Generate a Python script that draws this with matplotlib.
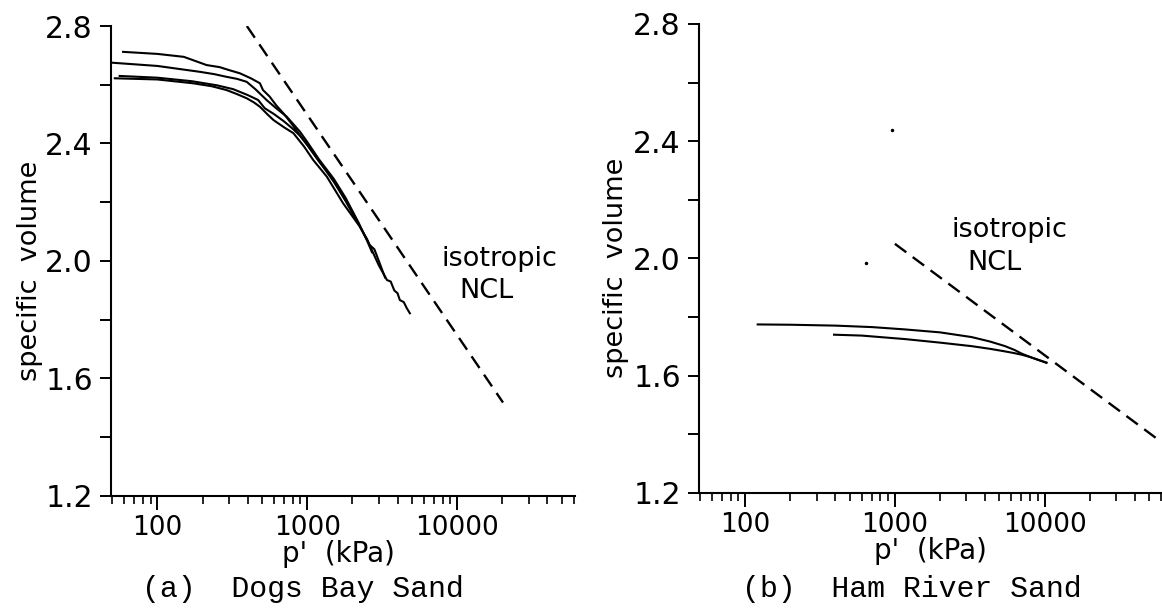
import numpy as np
import matplotlib
matplotlib.use('Agg')
import matplotlib.pyplot as plt
from matplotlib.ticker import MultipleLocator, NullFormatter

plt.rcParams['font.family'] = 'DejaVu Sans'

# (a) Dogs Bay Sand: compression curves
dogs_p1 = [59, 100, 150, 213, 260, 300, 355, 420, 483, 506, 560, 620, 700, 800,
           900, 1000, 1200, 1500, 1800, 2200, 2600, 2800, 3000, 3300]
dogs_v1 = [2.712, 2.705, 2.695, 2.667, 2.660, 2.650, 2.639, 2.622, 2.605, 2.582,
           2.560, 2.530, 2.500, 2.462, 2.425, 2.395, 2.340, 2.270, 2.205, 2.125,
           2.055, 2.040, 2.000, 1.944]
dogs_p2 = [50, 100, 192, 240, 289, 340, 394, 450, 535, 620, 730, 894, 1000, 1200,
           1500, 1800, 2200, 2500, 2700]
dogs_v2 = [2.675, 2.664, 2.644, 2.636, 2.627, 2.620, 2.610, 2.585, 2.548, 2.520,
           2.491, 2.440, 2.405, 2.345, 2.280, 2.215, 2.130, 2.070, 2.030]
dogs_p3 = [52, 100, 173, 230, 289, 340, 394, 440, 483, 540, 594, 700, 808, 950,
           1094, 1350, 1730, 2240, 2500, 2750, 3000, 3400, 3600, 3800, 4000, 4140,
           4400, 4600, 4830]
dogs_v3 = [2.622, 2.618, 2.605, 2.595, 2.582, 2.568, 2.554, 2.540, 2.525, 2.500,
           2.480, 2.455, 2.435, 2.390, 2.344, 2.287, 2.197, 2.117, 2.075, 2.027,
           1.985, 1.935, 1.930, 1.900, 1.890, 1.867, 1.860, 1.840, 1.822]
dogs_p4 = [56, 100, 170, 250, 320, 400, 470, 520, 600, 700, 800, 900, 1000, 1200,
           1500, 2000]
dogs_v4 = [2.630, 2.624, 2.612, 2.598, 2.585, 2.565, 2.548, 2.520, 2.500, 2.475,
           2.450, 2.425, 2.395, 2.338, 2.275, 2.165]
dogs_ncl_p = [395, 20200]
dogs_ncl_v = [2.80, 1.518]

# (b) Ham River Sand
ham_p1 = [121, 200, 400, 700, 1170, 2000, 3250, 4300, 5450, 6300, 7000, 8000,
          9100, 10300]
ham_v1 = [1.775, 1.774, 1.771, 1.766, 1.758, 1.748, 1.732, 1.717, 1.701, 1.688,
          1.676, 1.664, 1.654, 1.645]
ham_p2 = [392, 600, 1170, 2000, 3250, 4300, 5450, 6300, 7000, 8000, 9100, 10300]
ham_v2 = [1.740, 1.737, 1.725, 1.713, 1.701, 1.692, 1.683, 1.677, 1.672, 1.664,
          1.654, 1.644]
ham_ncl_p = [1000, 60000]
ham_ncl_v = [2.05, 1.375]
ham_specks_p = [955, 637]
ham_specks_v = [2.44, 1.986]

xticks = [100, 1000, 10000]
xticklabels = ['100', '1000', '10000']
yticks = [1.2, 1.6, 2.0, 2.4, 2.8]
yticklabels = ['1.2', '1.6', '2.0', '2.4', '2.8']
xlim = (49, 61000)
ylim = (1.2, 2.8)

fig = plt.figure(figsize=(11.62, 6.09), dpi=100)
ax_a = fig.add_axes([0.0955, 0.1856, 0.3993, 0.7717])
ax_b = fig.add_axes([0.6015, 0.1905, 0.3985, 0.7701])

def style_axes(ax):
    ax.set_xscale('log')
    ax.set_xlim(*xlim)
    ax.set_ylim(*ylim)
    for s in ['top', 'right']:
        ax.spines[s].set_visible(False)
    for s in ['left', 'bottom']:
        ax.spines[s].set_linewidth(1.5)
    ax.set_xticks(xticks, xticklabels)
    ax.xaxis.set_minor_formatter(NullFormatter())
    ax.yaxis.set_minor_locator(MultipleLocator(0.2))
    ax.set_yticks(yticks, yticklabels)
    ax.tick_params(axis='x', which='major', direction='out', length=10, width=1.4,
                   labelsize=19, pad=4)
    ax.tick_params(axis='x', which='minor', direction='out', length=6, width=1.2)
    ax.tick_params(axis='y', which='both', direction='out', length=8, width=1.4)
    ax.tick_params(axis='y', which='major', labelsize=21.5, pad=5)
    ax.set_ylabel('specific  volume', fontsize=19.5)
    ax.set_xlabel("p'  (kPa)", fontsize=20, va='top')

style_axes(ax_a)
style_axes(ax_b)

lw = 1.5
dash = (0, (6, 3.4))
for p, v in [(dogs_p1, dogs_v1), (dogs_p2, dogs_v2), (dogs_p3, dogs_v3), (dogs_p4, dogs_v4)]:
    ax_a.plot(p, v, color='black', lw=lw)
ax_a.plot(dogs_ncl_p, dogs_ncl_v, color='black', lw=1.7, linestyle=dash)

for p, v in [(ham_p1, ham_v1), (ham_p2, ham_v2)]:
    ax_b.plot(p, v, color='black', lw=lw)
ax_b.plot(ham_ncl_p, ham_ncl_v, color='black', lw=1.7, linestyle=dash, clip_on=False)
ax_b.plot(ham_specks_p, ham_specks_v, 'o', color='black', ms=1.5)

ax_a.yaxis.set_label_coords(-0.147, 0.48)
ax_b.yaxis.set_label_coords(-0.15, 0.48)
ax_a.xaxis.set_label_coords(0.49, -0.094)
ax_b.xaxis.set_label_coords(0.499, -0.094)

ax_a.text(0.838, 0.489, 'isotropic', transform=ax_a.transAxes, ha='center',
          va='baseline', fontsize=19.5)
ax_a.text(0.809, 0.421, 'NCL', transform=ax_a.transAxes, ha='center',
          va='baseline', fontsize=19.5)
ax_b.text(0.67, 0.546, 'isotropic', transform=ax_b.transAxes, ha='center',
          va='baseline', fontsize=19.5)
ax_b.text(0.639, 0.475, 'NCL', transform=ax_b.transAxes, ha='center',
          va='baseline', fontsize=19.5)

fig.text(303 / 1162, 1 - 589 / 609, '(a)  Dogs Bay Sand', ha='center', va='center',
         fontsize=21.5, family='Liberation Mono')
fig.text(912 / 1162, 1 - 589 / 609, '(b)  Ham River Sand', ha='center', va='center',
         fontsize=21.5, family='Liberation Mono')

fig.savefig('out.png', dpi=100)
